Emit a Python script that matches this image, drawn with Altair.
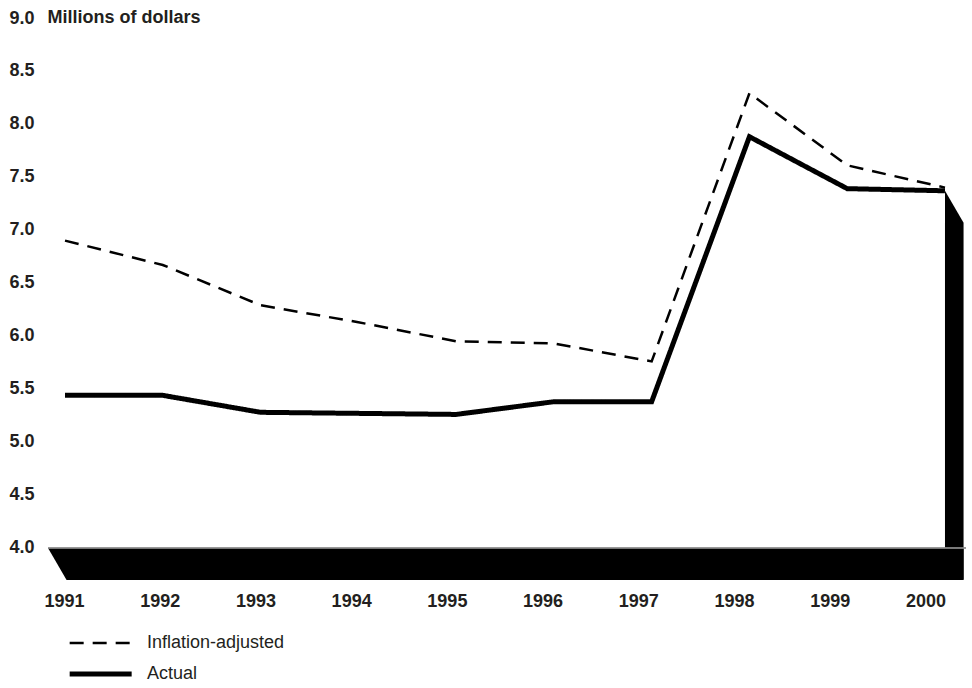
import altair as alt
import pandas as pd

# ---- data ----
years = [1991, 1992, 1993, 1994, 1995, 1996, 1997, 1998, 1999, 2000]
actual = [5.44, 5.44, 5.28, 5.27, 5.26, 5.38, 5.38, 7.88, 7.39, 7.37]
inflation_adjusted = [6.90, 6.67, 6.29, 6.13, 5.95, 5.93, 5.76, 8.29, 7.61, 7.40]
series_names = ["Inflation-adjusted", "Actual"]
y_ticks = [4.0, 4.5, 5.0, 5.5, 6.0, 6.5, 7.0, 7.5, 8.0, 8.5, 9.0]
y_title = "Millions of dollars"

# ---- styles ----
FONT = "Liberation Sans"
TEXT = "#231f20"
FS = 18
X_DOMAIN = [1990.826, 2000.215]
LABEL_DOMAIN = [1990.828, 2000.418]
Y_DOMAIN = [3.698, 9.0]
DX, DY = 0.19, 0.302  # depth of the 3-D floor / wall

rows = []
for yr, a, i in zip(years, actual, inflation_adjusted):
    rows.append({"year": yr, "series": "Inflation-adjusted", "value": i})
    rows.append({"year": yr, "series": "Actual", "value": a})
df = pd.DataFrame(rows)

base = y_ticks[0]
floor_df = pd.DataFrame({
    "x": [X_DOMAIN[0], X_DOMAIN[0] + DX, years[-1] + DX],
    "top": [base, base, base],
    "bottom": [base, base - DY, base - DY],
})
wall_df = pd.DataFrame({
    "x": [years[-1], years[-1] + DX],
    "top": [actual[-1], actual[-1] - DY],
    "bottom": [base, base - DY],
})
label_df = pd.DataFrame({"year": years})

xs = alt.Scale(domain=X_DOMAIN, nice=False, zero=False)
ys = alt.Scale(domain=Y_DOMAIN, nice=False, zero=False)

floor = alt.Chart(floor_df).mark_area(color="black", interpolate="linear").encode(
    x=alt.X("x:Q", scale=xs, axis=None),
    y=alt.Y("top:Q", scale=ys, axis=None),
    y2="bottom:Q",
)
wall = alt.Chart(wall_df).mark_area(color="black", interpolate="linear").encode(
    x=alt.X("x:Q", scale=xs, axis=None),
    y=alt.Y("top:Q", scale=ys, axis=None),
    y2="bottom:Q",
)
baseline = alt.Chart(floor_df).mark_rule(color="#8a8a8a", strokeWidth=1).encode(
    y=alt.YDatum(base, axis=None)
)

# long, low legend stroke: a custom path so the rows stay close together
legend = alt.Legend(
    title=None, orient="none", legendX=19, legendY=613, direction="vertical",
    symbolType="M-1,0H5", symbolSize=427, symbolStrokeColor="black",
    labelFont=FONT, labelFontSize=FS, labelColor=TEXT, labelOffset=54,
    rowPadding=9, padding=0,
)

lines = alt.Chart(df).mark_line(color="black", strokeJoin="miter", strokeCap="butt").encode(
    x=alt.X("year:Q", scale=xs, axis=None),
    y=alt.Y("value:Q", scale=ys, axis=alt.Axis(
        values=y_ticks, format=".1f", title=y_title,
        titleAngle=0, titleAlign="left", titleBaseline="middle", titleX=-1, titleY=-1,
        titleFont=FONT, titleFontSize=FS, titleFontWeight="bold", titleColor=TEXT,
        labelFont=FONT, labelFontSize=FS, labelFontWeight="bold", labelColor=TEXT,
        labelAlign="left", labelBaseline="middle", labelPadding=39,
        ticks=False, tickSize=0, domain=False, grid=False,
    )),
    strokeDash=alt.StrokeDash("series:N", scale=alt.Scale(domain=series_names, range=[[14, 9], [1, 0]]), legend=legend),
    strokeWidth=alt.StrokeWidth("series:N", scale=alt.Scale(domain=series_names, range=[2.5, 5]), legend=legend),
)

labels = alt.Chart(label_df).mark_text(
    font=FONT, fontSize=FS, fontWeight="bold", color=TEXT, baseline="top", dy=13
).encode(
    x=alt.X("year:Q", scale=alt.Scale(domain=LABEL_DOMAIN, nice=False, zero=False), axis=None),
    y=alt.YDatum(Y_DOMAIN[0], axis=None),
    text=alt.Text("year:Q", format="d"),
)

chart = alt.layer(floor, wall, baseline, lines, labels).resolve_scale(
    x="independent"
).resolve_axis(
    y="independent"
).properties(
    width=918, height=562,
    background="white",
    autosize=alt.AutoSizeParams(type="none"),
    padding={"left": 48, "top": 18, "right": 6, "bottom": 108},
).configure_view(stroke=None)

chart.save("out.html", embed_options={"renderer": "svg", "actions": False})
